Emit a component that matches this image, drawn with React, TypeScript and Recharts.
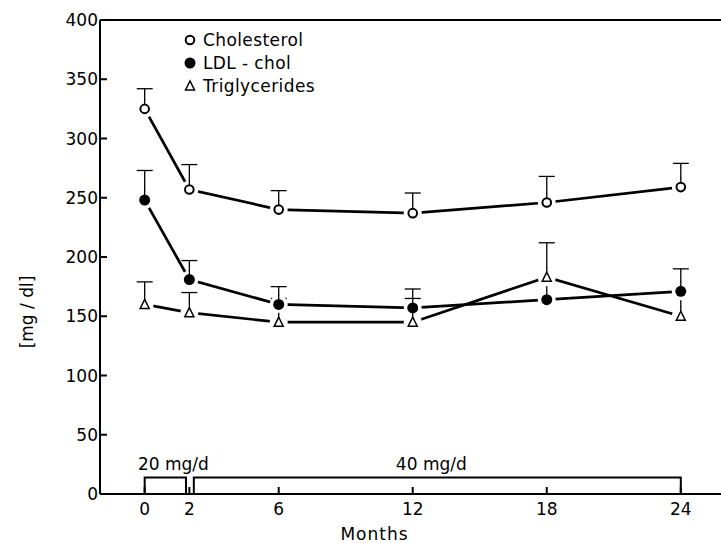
import React from "react";
import {
  ComposedChart,
  Line,
  Scatter,
  XAxis,
  YAxis,
  ErrorBar,
  ReferenceArea,
  ReferenceLine,
  Legend,
} from "recharts";

const months = [0, 2, 6, 12, 18, 24];
const cholesterol = [325, 257, 240, 237, 246, 259];
const cholesterolSd = [17, 21, 16, 17, 22, 20];
const ldlChol = [248, 181, 160, 157, 164, 171];
const ldlCholSd = [25, 16, 15, 16, 19, 19];
const triglycerides = [160, 153, 145, 145, 183, 150];
const triglyceridesSd = [19, 17, 20, 20, 29, 20];

const xTicks = [0, 2, 6, 12, 18, 24];
const yTicks = [0, 50, 100, 150, 200, 250, 300, 350, 400];

// dosing periods (months) shown as boxes on the x axis
const doseLabels = ["20 mg/d", "40 mg/d"];
const doseStart = [0, 2.2];
const doseEnd = [1.85, 24];
const doseHeight = 14;

const FONT = "'DejaVu Sans', sans-serif";

const chartData = months.map((m, i) => ({
  month: m,
  chol: cholesterol[i],
  cholErr: [0, cholesterolSd[i]],
  ldl: ldlChol[i],
  ldlErr: [0, ldlCholSd[i]],
  trig: triglycerides[i],
  trigErr: [0, triglyceridesSd[i]],
}));

type Kind = "open" | "filled" | "triangle";

const Marker = ({ kind, cx, cy }: { kind: Kind; cx: number; cy: number }) => {
  if (kind === "open")
    return <circle cx={cx} cy={cy} r={4.3} fill="#fff" stroke="#000" strokeWidth={2} />;
  if (kind === "filled") return <circle cx={cx} cy={cy} r={5.5} fill="#000" />;
  return (
    <polygon
      points={`${cx},${cy - 5} ${cx - 4.5},${cy + 4} ${cx + 4.5},${cy + 4}`}
      fill="#fff"
      stroke="#000"
      strokeWidth={1.5}
    />
  );
};

// marker with a white halo so the lines stop short of the symbol, like the print
const makeShape = (kind: Kind, errKey: string) => (props: any) => {
  const { cx, cy, payload } = props;
  if (cx == null || cy == null) return <g />;
  const hasErr = payload && payload[errKey] && payload[errKey][1] > 0;
  const top = kind === "filled" ? 5 : 4.5;
  return (
    <g>
      <circle cx={cx} cy={cy} r={9} fill="#fff" />
      {hasErr && (
        <line x1={cx} x2={cx} y1={cy - top} y2={cy - 9.5} stroke="#000" strokeWidth={1.3} />
      )}
      <Marker kind={kind} cx={cx} cy={cy} />
    </g>
  );
};

const legendItems: { kind: Kind; label: string }[] = [
  { kind: "open", label: "Cholesterol" },
  { kind: "filled", label: "LDL - chol" },
  { kind: "triangle", label: "Triglycerides" },
];

const renderLegend = () => (
  <div style={{ fontFamily: FONT, fontSize: 17, letterSpacing: 0.4, color: "#000" }}>
    {legendItems.map((it) => (
      <div key={it.label} style={{ display: "flex", alignItems: "center", height: 23 }}>
        <svg width={14} height={14} style={{ marginRight: 6 }}>
          <Marker kind={it.kind} cx={7} cy={7} />
        </svg>
        <span>{it.label}</span>
      </div>
    ))}
  </div>
);

const YLabel = (props: any) => {
  const { viewBox } = props;
  const x = viewBox.x + 27;
  const y = viewBox.y + viewBox.height / 2 + 55;
  return (
    <text
      x={x}
      y={y}
      transform={`rotate(-90, ${x}, ${y})`}
      textAnchor="middle"
      dominantBaseline="central"
      fontFamily={FONT}
      fontSize={17}
      fill="#000"
    >
      [mg / dl]
    </text>
  );
};

const App: React.FC = () => {
  return (
    <div style={{ position: "absolute", left: 0, top: 0 }}>
      <ComposedChart
        width={721}
        height={543}
        data={chartData}
        margin={{ top: 20, right: 0, bottom: 0, left: 0 }}
      >
        <XAxis
          dataKey="month"
          type="number"
          domain={[-2, 25.8]}
          allowDataOverflow
          ticks={xTicks}
          height={49}
          axisLine={{ stroke: "#000", strokeWidth: 2 }}
          tickLine={{ stroke: "#000", strokeWidth: 2 }}
          tickSize={-7}
          tickMargin={16}
          tick={{ fill: "#000", fontSize: 17, fontFamily: FONT }}
          label={{
            value: "Months",
            position: "insideBottom",
            offset: 3,
            dx: -36,
            fill: "#000",
            fontSize: 17,
            fontFamily: FONT,
            letterSpacing: 1,
          }}
        />
        <YAxis
          type="number"
          domain={[0, 400]}
          ticks={yTicks}
          width={100}
          axisLine={{ stroke: "#000", strokeWidth: 2 }}
          tickLine={{ stroke: "#000", strokeWidth: 2 }}
          tickSize={-7}
          tickMargin={9}
          tick={{ fill: "#000", fontSize: 17, fontFamily: FONT }}
          label={{ content: <YLabel /> }}
        />
        <ReferenceLine y={400} stroke="#000" strokeWidth={2} />
        {doseLabels.map((lbl, i) => (
          <ReferenceArea
            key={lbl}
            x1={doseStart[i]}
            x2={doseEnd[i]}
            y1={0}
            y2={doseHeight}
            fill="#fff"
            fillOpacity={1}
            stroke="#000"
            strokeWidth={2}
            label={{
              value: lbl,
              position: "top",
              offset: 7,
              dx: i === 0 ? 8 : -6,
              fill: "#000",
              fontSize: 17,
              fontFamily: FONT,
            }}
          />
        ))}
        <Legend
          layout="vertical"
          align="center"
          verticalAlign="middle"
          content={renderLegend}
          wrapperStyle={{ left: 183, top: 28, width: 200, height: 70 }}
        />
        <Line dataKey="chol" stroke="#000" strokeWidth={2.7} dot={false} activeDot={false} isAnimationActive={false}>
          <ErrorBar dataKey="cholErr" direction="y" width={8} stroke="#000" strokeWidth={1.3} />
        </Line>
        <Line dataKey="ldl" stroke="#000" strokeWidth={2.7} dot={false} activeDot={false} isAnimationActive={false}>
          <ErrorBar dataKey="ldlErr" direction="y" width={8} stroke="#000" strokeWidth={1.3} />
        </Line>
        <Line dataKey="trig" stroke="#000" strokeWidth={2.7} dot={false} activeDot={false} isAnimationActive={false}>
          <ErrorBar dataKey="trigErr" direction="y" width={8} stroke="#000" strokeWidth={1.3} />
        </Line>
        <Scatter dataKey="chol" shape={makeShape("open", "cholErr")} isAnimationActive={false} />
        <Scatter dataKey="ldl" shape={makeShape("filled", "ldlErr")} isAnimationActive={false} />
        <Scatter dataKey="trig" shape={makeShape("triangle", "trigErr")} isAnimationActive={false} />
      </ComposedChart>
    </div>
  );
};

export default App;
